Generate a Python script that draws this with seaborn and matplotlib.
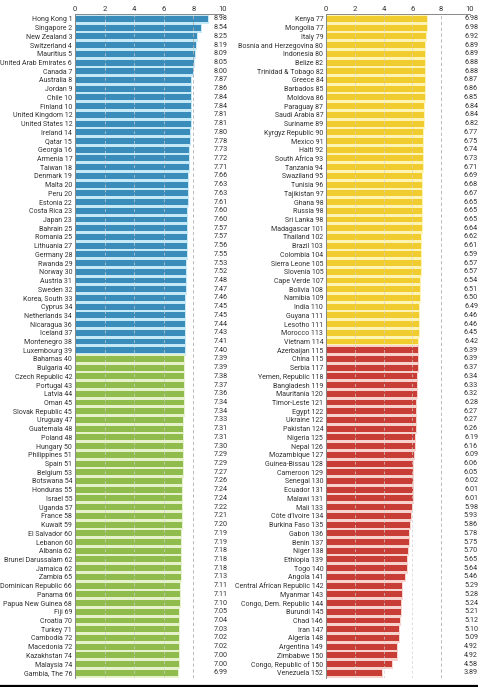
import numpy as np
import pandas as pd
import matplotlib
matplotlib.use("Agg")
import matplotlib.pyplot as plt
import seaborn as sns

# Data: countries, ranks and scores (left column 1-76, right column 77-152)
left_countries = [
    "Hong Kong", "Singapore", "New Zealand", "Switzerland", "Mauritius", "United Arab Emirates",
    "Canada", "Australia", "Jordan", "Chile", "Finland", "United Kingdom", "United States",
    "Ireland", "Qatar", "Georgia", "Armenia", "Taiwan", "Denmark", "Malta", "Peru", "Estonia",
    "Costa Rica", "Japan", "Bahrain", "Romania", "Lithuania", "Germany", "Rwanda", "Norway",
    "Austria", "Sweden", "Korea, South", "Cyprus", "Netherlands", "Nicaragua", "Iceland",
    "Montenegro", "Luxembourg",
    "Bahamas", "Bulgaria", "Czech Republic", "Portugal", "Latvia", "Oman", "Slovak Republic",
    "Uruguay", "Guatemala", "Poland", "Hungary", "Philippines", "Spain", "Belgium", "Botswana",
    "Honduras", "Israel", "Uganda", "France", "Kuwait", "El Salvador", "Lebanon", "Albania",
    "Brunei Darussalam", "Jamaica", "Zambia", "Dominican Republic", "Panama",
    "Papua New Guinea", "Fiji", "Croatia", "Turkey", "Cambodia", "Macedonia", "Kazakhstan",
    "Malaysia", "Gambia, The",
]
left_ranks = [
    1, 2, 3, 4, 5, 6, 7, 8, 9, 10, 10, 12, 12, 14, 15, 16, 17, 18, 19, 20, 20, 22, 23, 23, 25,
    25, 27, 28, 29, 30, 31, 32, 33, 34, 34, 36, 37, 38, 39,
    40, 40, 42, 43, 44, 45, 45, 47, 48, 48, 50, 51, 51, 53, 54, 55, 55, 57, 58, 59, 60, 60,
    62, 62, 62, 65, 66, 66, 68, 69, 70, 71, 72, 72, 74, 74, 76,
]
left_scores = [
    8.98, 8.54, 8.25, 8.19, 8.09, 8.05, 8.00, 7.87, 7.86, 7.84, 7.84, 7.81, 7.81, 7.80, 7.78,
    7.73, 7.72, 7.71, 7.66, 7.63, 7.63, 7.61, 7.60, 7.60, 7.57, 7.57, 7.56, 7.55, 7.53, 7.52,
    7.48, 7.47, 7.46, 7.45, 7.45, 7.44, 7.43, 7.41, 7.40,
    7.39, 7.39, 7.38, 7.37, 7.36, 7.34, 7.34, 7.33, 7.31, 7.31, 7.30, 7.29, 7.29, 7.27, 7.26,
    7.24, 7.24, 7.22, 7.21, 7.20, 7.19, 7.19, 7.18, 7.18, 7.18, 7.13, 7.11, 7.11, 7.10, 7.05,
    7.04, 7.03, 7.02, 7.02, 7.00, 7.00, 6.99,
]
left_groups = ["Q1"] * 39 + ["Q2"] * 37

right_countries = [
    "Kenya", "Mongolia", "Italy", "Bosnia and Herzegovina", "Indonesia", "Belize",
    "Trinidad & Tobago", "Greece", "Barbados", "Moldova", "Paraguay", "Saudi Arabia",
    "Suriname", "Kyrgyz Republic", "Mexico", "Haiti", "South Africa", "Tanzania", "Swaziland",
    "Tunisia", "Tajikistan", "Ghana", "Russia", "Sri Lanka", "Madagascar", "Thailand", "Brazil",
    "Colombia", "Sierra Leone", "Slovenia", "Cape Verde", "Bolivia", "Namibia", "India",
    "Guyana", "Lesotho", "Morocco", "Vietnam",
    "Azerbaijan", "China", "Serbia", "Yemen, Republic", "Bangladesh", "Mauritania",
    "Timor-Leste", "Egypt", "Ukraine", "Pakistan", "Nigeria", "Nepal", "Mozambique",
    "Guinea-Bissau", "Cameroon", "Senegal", "Ecuador", "Malawi", "Mali", "Côte d'Ivoire",
    "Burkina Faso", "Gabon", "Benin", "Niger", "Ethiopia", "Togo", "Angola",
    "Central African Republic", "Myanmar", "Congo, Dem. Republic", "Burundi", "Chad", "Iran",
    "Algeria", "Argentina", "Zimbabwe", "Congo, Republic of", "Venezuela",
]
right_ranks = [
    77, 77, 79, 80, 80, 82, 82, 84, 85, 86, 87, 87, 89, 90, 91, 92, 93, 94, 95, 96, 97, 98, 98,
    98, 101, 102, 103, 104, 105, 105, 107, 108, 109, 110, 111, 111, 113, 114,
    115, 115, 117, 118, 119, 120, 121, 122, 122, 124, 125, 126, 127, 128, 129, 130, 131, 131,
    133, 134, 135, 136, 137, 138, 139, 140, 141, 142, 143, 144, 145, 146, 147, 148, 149, 150,
    150, 152,
]
right_scores = [
    6.98, 6.98, 6.92, 6.89, 6.89, 6.88, 6.88, 6.87, 6.86, 6.85, 6.84, 6.84, 6.82, 6.77, 6.75,
    6.74, 6.73, 6.71, 6.69, 6.68, 6.67, 6.65, 6.65, 6.65, 6.64, 6.62, 6.61, 6.59, 6.57, 6.57,
    6.54, 6.51, 6.50, 6.49, 6.46, 6.46, 6.45, 6.42,
    6.39, 6.39, 6.37, 6.34, 6.33, 6.32, 6.28, 6.27, 6.27, 6.26, 6.19, 6.16, 6.09, 6.06, 6.05,
    6.02, 6.01, 6.01, 5.98, 5.93, 5.86, 5.78, 5.75, 5.70, 5.65, 5.64, 5.46, 5.29, 5.28, 5.24,
    5.21, 5.12, 5.10, 5.09, 4.92, 4.92, 4.58, 3.89,
]
right_groups = ["Q3"] * 38 + ["Q4"] * 38

bar_colors = {"Q1": "#3a8cba", "Q2": "#8fbc4c", "Q3": "#f0cc2e", "Q4": "#c83e36"}
tint_colors = {"Q1": "#c6e9f8", "Q2": "#e6f2cb", "Q3": "#fff4b3", "Q4": "#f8d3cd"}

sns.set_theme(style="white")
plt.rcParams["font.family"] = ["Liberation Sans Narrow", "Roboto", "DejaVu Sans"]
FS = 5.0

fig = plt.figure(figsize=(4.78, 6.87), dpi=100)
ax_l = fig.add_axes([75 / 478, 9 / 687, 10.3 * 14.8 / 478, 664 / 687])
ax_r = fig.add_axes([326 / 478, 9 / 687, 10.5 * 14.4 / 478, 664 / 687])


def draw_panel(ax, countries, ranks, scores, groups, xmax, value_x):
    labels = [f"{c} {r}" for c, r in zip(countries, ranks)]
    df = pd.DataFrame({"label": labels, "score": scores, "group": groups})
    # light halo band behind each bar
    sns.barplot(data=df, x="score", y="label", hue="group", palette=tint_colors,
                dodge=False, width=1.0, legend=False, ax=ax, saturation=1, linewidth=1.4)
    for p, g in zip(ax.patches, groups):
        p.set_edgecolor(tint_colors[g])
    sns.barplot(data=df, x="score", y="label", hue="group", palette=bar_colors,
                dodge=False, width=0.68, legend=False, ax=ax, saturation=1, linewidth=0)
    for gx in [2, 4, 6]:
        ax.axvline(gx, color="#d0d0d0", lw=0.5, ls=(0, (4, 3)), zorder=5)
    ax.axvline(8, color="#b0b0b0", lw=0.6, ls=(0, (4, 3)), zorder=5)
    for i, v in enumerate(scores):
        ax.text(value_x, i, f"{v:.2f}", ha="center", va="center", fontsize=FS + 0.2,
                color="#333333")
    ax.set_xlim(0, xmax)
    ax.set_ylim(len(scores) - 0.4, -0.57)
    ax.set_xlabel("")
    ax.set_ylabel("")
    ax.xaxis.tick_top()
    ax.set_xticks([0, 2, 4, 6, 8, 10])
    ax.set_xticklabels(["0", "2", "4", "6", "8", "10"])
    ax.tick_params(axis="x", length=0, pad=1.5, labelsize=FS + 0.5, colors="#333333")
    ax.tick_params(axis="y", length=0, pad=2, labelsize=FS, colors="#333333")
    for s in ["right", "bottom"]:
        ax.spines[s].set_visible(False)
    ax.spines["top"].set_bounds(0, 10)
    ax.spines["top"].set_color("#888888")
    ax.spines["top"].set_linewidth(0.7)
    ax.spines["left"].set_color("#888888")
    ax.spines["left"].set_linewidth(0.7)
    ax.set_facecolor("none")


draw_panel(ax_l, left_countries, left_ranks, left_scores, left_groups, 10.3, 9.83)
draw_panel(ax_r, right_countries, right_ranks, right_scores, right_groups, 10.5, 10.07)

# heavy rule along the bottom
fig.add_artist(plt.Line2D([0, 1], [1.5 / 687, 1.5 / 687], color="black", lw=1.6,
                          transform=fig.transFigure))

fig.savefig("out.png", dpi=100)
plt.close(fig)
